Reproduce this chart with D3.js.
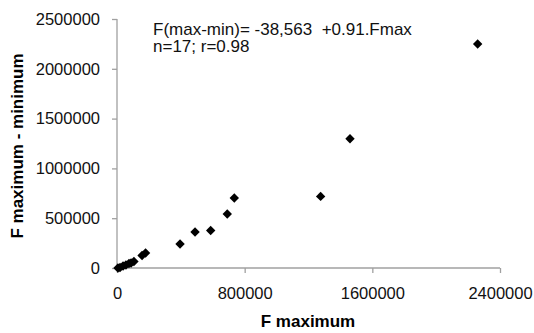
<!DOCTYPE html>
<html>
    <head>
        <title>F maximum vs F maximum - minimum</title>
        <script src="https://d3js.org/d3.v7.min.js"></script>
        <style>
         body { margin: 0; background: #fff; }
         svg { display: block; font-family: Arial, "Liberation Sans", sans-serif; }
        </style>
    </head>
    <body>
        <svg width="534" height="333"></svg>
        <script>
         // values
         const fMax =    [6000, 19000, 38000, 56000, 75000, 88000, 106000, 157000, 179000,
                          395000, 489000, 587000, 691000, 735000, 1276000, 1460000, 2260000];
         const fMaxMin = [0, 5000, 20000, 30000, 45000, 50000, 65000, 125000, 151000,
                          241000, 361000, 377000, 542000, 703000, 719000, 1298000, 2249000];
         const xTicks = [0, 800000, 1600000, 2400000];
         const yTicks = [0, 500000, 1000000, 1500000, 2000000, 2500000];
         const equation = ["F(max-min)= -38,563  +0.91.Fmax", "n=17; r=0.98"];

         const svg = d3.select("svg");
         const axisColor = "#a0a0a0";

         const x = d3.scaleLinear().domain([0, 2400000]).range([117, 500]);
         const y = d3.scaleLinear().domain([0, 2500000]).range([268, 19]);

         // y axis
         const yAxis = svg.append("g")
             .attr("transform", "translate(117,0)")
             .call(d3.axisLeft(y).tickValues(yTicks).tickSize(5).tickPadding(12)
                   .tickFormat(d3.format("d")));
         yAxis.selectAll("text").attr("font-size", 16.5).attr("fill", "#111").attr("font-family", null);

         // x axis
         const xAxis = svg.append("g")
             .attr("transform", "translate(0,268)")
             .call(d3.axisBottom(x).tickValues(xTicks).tickSize(5).tickPadding(14)
                   .tickFormat(d3.format("d")));
         xAxis.selectAll("text").attr("font-size", 16.5).attr("fill", "#111").attr("font-family", null);

         svg.selectAll(".domain, .tick line").attr("stroke", axisColor).attr("stroke-width", 1.3);
         // Excel style: no outer tick caps
         yAxis.select(".domain").attr("d", `M0,${y(2500000)}V${y(0)}`);
         xAxis.select(".domain").attr("d", `M${x(0)},0H${x(2400000)}`);

         // points
         const pts = fMax.map((v, i) => ({x: v, y: fMaxMin[i]}));
         svg.append("g").selectAll("path")
            .data(pts)
            .join("path")
            .attr("d", d3.symbol(d3.symbolSquare, 44))
            .attr("transform", d => `translate(${x(d.x)},${y(d.y)}) rotate(45)`)
            .attr("fill", "#000");

         // axis titles
         svg.append("text")
            .attr("x", 308)
            .attr("y", 327)
            .attr("text-anchor", "middle")
            .attr("font-size", 17)
            .attr("font-weight", "bold")
            .text("F maximum");

         svg.append("text")
            .attr("transform", "translate(23,146) rotate(-90)")
            .attr("text-anchor", "middle")
            .attr("font-size", 17)
            .attr("font-weight", "bold")
            .text("F maximum - minimum");

         // regression note
         svg.append("g").selectAll("text")
            .data(equation)
            .join("text")
            .attr("x", 153)
            .attr("y", (d, i) => 35 + i * 17)
            .attr("font-size", 17)
            .attr("fill", "#111")
            .style("white-space", "pre")
            .text(d => d);
        </script>
    </body>
</html>
